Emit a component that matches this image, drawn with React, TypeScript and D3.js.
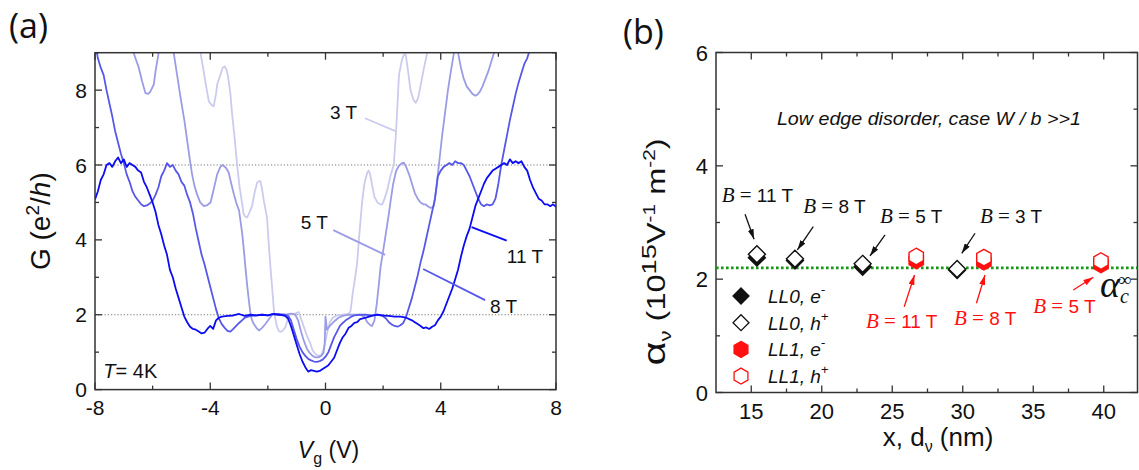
import React from 'react';
import * as d3 from 'd3';

// ---------- Panel (a) data: G (e^2/h) vs Vg (V) ----------
const vgTicks = [-8, -4, 0, 4, 8];
const gTicks = [0, 2, 4, 6, 8];
const plateauLevels = [2, 6];

const curve3T: [number, number][] = [
  [-4.45, 9.3], [-4.34, 9.0], [-4.25, 8.6], [-4.17, 8.23], [-4.05, 7.7], [-3.95, 7.6], [-3.88, 7.57], [-3.8, 7.9], [-3.76, 8.15],
  [-3.65, 8.4], [-3.57, 8.6], [-3.5, 8.63], [-3.44, 8.55], [-3.39, 8.4], [-3.3, 7.9], [-3.24, 7.35], [-3.15, 6.7], [-3.07, 6.02],
  [-2.98, 5.4], [-2.89, 4.95], [-2.84, 4.69], [-2.78, 4.62], [-2.72, 4.6], [-2.63, 4.75], [-2.55, 4.9], [-2.45, 5.3], [-2.37, 5.53],
  [-2.3, 5.57], [-2.26, 5.57], [-2.2, 5.35], [-2.14, 5.04], [-2.08, 4.8], [-2.03, 4.6], [-1.97, 3.9], [-1.91, 3.27], [-1.85, 2.7],
  [-1.79, 2.12], [-1.73, 1.85], [-1.68, 1.67], [-1.62, 1.57], [-1.56, 1.54], [-1.48, 1.58], [-1.39, 1.67], [-1.32, 1.85], [-1.27, 2.0],
  [-1.1, 2.02], [-0.93, 2.07], [-0.85, 1.9], [-0.75, 1.67], [-0.65, 1.45], [-0.52, 1.22], [-0.45, 1.05], [-0.35, 0.95], [-0.25, 0.9],
  [-0.15, 0.92], [-0.08, 1.05], [0.0, 1.3], [0.08, 1.6], [0.15, 1.8], [0.25, 1.92], [0.4, 1.98], [0.6, 2.0], [0.8, 2.02], [0.87, 2.1],
  [0.95, 2.6], [1.03, 3.0], [1.1, 3.4], [1.18, 4.2], [1.27, 5.0], [1.35, 5.5], [1.45, 5.8], [1.5, 5.85], [1.55, 5.75], [1.62, 5.45],
  [1.7, 5.15], [1.8, 5.0], [1.9, 4.95], [1.97, 4.95], [2.05, 5.1], [2.15, 5.35], [2.25, 5.7], [2.37, 6.0], [2.45, 6.9], [2.55, 8.4],
  [2.65, 8.8], [2.72, 8.95], [2.78, 8.96], [2.85, 8.6], [2.95, 8.0], [3.05, 7.75], [3.13, 7.66], [3.22, 7.8], [3.32, 8.2], [3.42, 8.6],
  [3.53, 9.0], [3.62, 9.3],
];

const curve5T: [number, number][] = [
  [-6.75, 9.3], [-6.66, 9.0], [-6.55, 8.75], [-6.48, 8.6], [-6.37, 8.25], [-6.25, 7.92], [-6.15, 7.9], [-6.08, 7.96], [-5.96, 8.15],
  [-5.9, 8.5], [-5.79, 9.0], [-5.7, 9.3], [-5.4, 9.3], [-5.27, 9.0], [-5.15, 8.4], [-5.03, 7.8], [-4.9, 7.2], [-4.8, 6.65], [-4.7, 6.1],
  [-4.63, 5.75], [-4.55, 5.45], [-4.46, 5.22], [-4.35, 5.0], [-4.22, 4.9], [-4.1, 4.93], [-3.99, 5.0], [-3.88, 5.35], [-3.76, 5.75],
  [-3.65, 5.95], [-3.57, 6.0], [-3.45, 5.92], [-3.36, 5.8], [-3.27, 5.5], [-3.18, 5.22], [-3.1, 5.0], [-3.0, 4.78], [-2.95, 4.5],
  [-2.89, 4.16], [-2.83, 3.7], [-2.78, 3.27], [-2.72, 2.8], [-2.66, 2.38], [-2.6, 2.0], [-2.55, 1.85], [-2.49, 1.76], [-2.4, 1.65],
  [-2.31, 1.58], [-2.2, 1.65], [-2.08, 1.76], [-1.95, 1.9], [-1.85, 2.0], [-1.6, 2.02], [-1.4, 2.0], [-1.2, 2.03], [-1.05, 2.0],
  [-0.95, 1.85], [-0.85, 1.55], [-0.75, 1.3], [-0.65, 1.1], [-0.55, 0.98], [-0.45, 0.9], [-0.35, 0.86], [-0.25, 0.86], [-0.15, 0.9],
  [-0.07, 0.98], [-0.03, 1.2], [0.0, 1.95], [0.05, 1.6], [0.15, 1.7], [0.3, 1.82], [0.45, 1.92], [0.6, 1.97], [0.8, 2.0], [1.0, 2.0],
  [1.2, 2.0], [1.35, 1.95], [1.45, 1.8], [1.55, 1.72], [1.62, 1.7], [1.7, 1.85], [1.78, 2.3], [1.85, 2.8], [1.91, 3.27], [2.0, 3.7],
  [2.1, 4.2], [2.2, 4.7], [2.26, 5.04], [2.35, 5.5], [2.45, 5.84], [2.55, 5.98], [2.65, 6.05], [2.72, 6.06], [2.8, 5.95], [2.9, 5.75],
  [3.0, 5.5], [3.1, 5.25], [3.2, 5.1], [3.3, 5.0], [3.4, 4.95], [3.47, 4.95], [3.55, 4.9], [3.65, 4.85], [3.76, 4.9], [3.85, 5.4],
  [3.95, 6.1], [4.05, 6.8], [4.15, 7.4], [4.25, 8.0], [4.35, 8.5], [4.46, 9.0], [4.52, 9.3], [4.55, 9.3], [4.6, 9.0], [4.7, 8.6],
  [4.8, 8.3], [4.9, 8.1], [5.0, 8.0], [5.1, 7.9], [5.2, 7.85], [5.27, 7.88], [5.35, 7.95], [5.45, 8.1], [5.55, 8.3], [5.65, 8.5],
  [5.75, 8.75], [5.85, 9.0], [5.95, 9.3],
];

const curve8T: [number, number][] = [
  [-8.0, 9.3], [-7.9, 8.85], [-7.8, 8.6], [-7.7, 8.4], [-7.6, 8.0], [-7.5, 7.65], [-7.4, 7.3], [-7.3, 6.9], [-7.2, 6.6], [-7.1, 6.3],
  [-7.0, 6.05], [-6.9, 5.75], [-6.8, 5.55], [-6.7, 5.3], [-6.6, 5.15], [-6.5, 5.05], [-6.4, 4.95], [-6.3, 4.9], [-6.2, 4.92],
  [-6.1, 4.97], [-6.0, 5.05], [-5.9, 5.2], [-5.8, 5.4], [-5.7, 5.7], [-5.6, 5.85], [-5.5, 6.05], [-5.4, 5.95], [-5.3, 6.0],
  [-5.2, 5.85], [-5.1, 5.75], [-5.0, 5.55], [-4.9, 5.45], [-4.8, 5.2], [-4.7, 5.0], [-4.6, 4.7], [-4.5, 4.3], [-4.4, 3.95],
  [-4.3, 3.6], [-4.2, 3.35], [-4.1, 3.05], [-4.0, 2.75], [-3.9, 2.45], [-3.8, 2.15], [-3.7, 1.9], [-3.6, 1.75], [-3.5, 1.65],
  [-3.4, 1.57], [-3.3, 1.55], [-3.2, 1.62], [-3.1, 1.7], [-3.0, 1.78], [-2.9, 1.85], [-2.8, 1.92], [-2.6, 1.97], [-2.4, 1.98],
  [-2.2, 2.0], [-2.0, 1.98], [-1.8, 2.02], [-1.6, 2.0], [-1.4, 2.0], [-1.3, 1.97], [-1.2, 1.85], [-1.1, 1.6], [-1.0, 1.35],
  [-0.9, 1.15], [-0.8, 1.0], [-0.7, 0.9], [-0.6, 0.82], [-0.5, 0.78], [-0.4, 0.75], [-0.3, 0.74], [-0.2, 0.76], [-0.1, 0.8],
  [0.0, 0.88], [0.1, 1.0], [0.2, 1.2], [0.3, 1.4], [0.4, 1.55], [0.5, 1.7], [0.6, 1.78], [0.7, 1.85], [0.8, 1.9], [0.9, 1.95],
  [1.0, 1.98], [1.2, 2.0], [1.4, 2.0], [1.6, 1.98], [1.8, 2.0], [2.0, 1.96], [2.1, 1.9], [2.2, 1.8], [2.3, 1.74], [2.4, 1.7],
  [2.5, 1.68], [2.6, 1.72], [2.7, 1.78], [2.8, 1.95], [2.9, 2.2], [3.0, 2.45], [3.1, 2.75], [3.2, 3.05], [3.3, 3.4], [3.4, 3.7],
  [3.5, 4.05], [3.6, 4.4], [3.7, 4.75], [3.8, 5.1], [3.85, 5.4], [3.9, 5.7], [4.0, 5.85], [4.1, 5.95], [4.2, 6.0], [4.3, 6.05],
  [4.4, 6.0], [4.5, 6.1], [4.6, 6.05], [4.7, 6.05], [4.8, 6.0], [4.9, 5.85], [5.0, 5.7], [5.1, 5.5], [5.2, 5.3], [5.3, 5.1],
  [5.4, 4.95], [5.5, 4.9], [5.6, 4.95], [5.7, 4.92], [5.8, 4.95], [5.9, 5.1], [6.0, 5.5], [6.1, 6.0], [6.2, 6.4], [6.3, 6.8],
  [6.4, 7.2], [6.5, 7.55], [6.6, 7.9], [6.7, 8.2], [6.8, 8.45], [6.9, 8.7], [7.0, 8.85], [7.1, 9.1], [7.2, 9.3],
];

const curve11T: [number, number][] = [
  [-8.0, 5.08], [-7.9, 5.3], [-7.8, 5.6], [-7.7, 5.75], [-7.6, 6.0], [-7.5, 6.05], [-7.4, 5.95], [-7.3, 6.1], [-7.2, 6.2], [-7.1, 6.05],
  [-7.0, 6.15], [-6.9, 5.95], [-6.8, 6.05], [-6.7, 6.0], [-6.6, 5.95], [-6.5, 5.85], [-6.4, 5.8], [-6.3, 5.55], [-6.2, 5.4],
  [-6.1, 5.2], [-6.0, 5.0], [-5.9, 4.75], [-5.8, 4.4], [-5.7, 4.15], [-5.6, 3.85], [-5.5, 3.6], [-5.4, 3.2], [-5.3, 3.0], [-5.2, 2.7],
  [-5.1, 2.45], [-5.0, 2.2], [-4.9, 1.95], [-4.8, 1.8], [-4.7, 1.68], [-4.6, 1.62], [-4.5, 1.6], [-4.4, 1.55], [-4.3, 1.5],
  [-4.2, 1.52], [-4.1, 1.62], [-4.0, 1.7], [-3.9, 1.62], [-3.8, 1.85], [-3.7, 1.92], [-3.6, 1.95], [-3.4, 1.97], [-3.2, 1.98],
  [-3.0, 2.02], [-2.8, 1.97], [-2.6, 2.0], [-2.4, 1.98], [-2.2, 2.0], [-2.0, 1.98], [-1.8, 2.02], [-1.6, 2.0], [-1.4, 1.97],
  [-1.3, 1.9], [-1.2, 1.7], [-1.1, 1.45], [-1.0, 1.2], [-0.9, 0.95], [-0.8, 0.75], [-0.7, 0.6], [-0.6, 0.48], [-0.5, 0.52],
  [-0.4, 0.5], [-0.3, 0.48], [-0.2, 0.5], [-0.1, 0.55], [0.0, 0.6], [0.1, 0.65], [0.2, 0.75], [0.3, 0.85], [0.4, 1.05], [0.5, 1.25],
  [0.6, 1.4], [0.7, 1.5], [0.8, 1.65], [0.9, 1.7], [1.0, 1.78], [1.1, 1.8], [1.2, 1.88], [1.4, 1.92], [1.6, 1.97], [1.8, 2.0],
  [2.0, 1.98], [2.2, 1.97], [2.4, 1.95], [2.6, 1.95], [2.8, 1.92], [3.0, 1.85], [3.1, 1.8], [3.2, 1.75], [3.3, 1.7], [3.4, 1.64],
  [3.5, 1.66], [3.6, 1.62], [3.7, 1.68], [3.8, 1.72], [3.9, 1.85], [4.0, 1.95], [4.1, 2.1], [4.2, 2.3], [4.3, 2.5], [4.4, 2.7],
  [4.5, 2.95], [4.6, 3.2], [4.7, 3.55], [4.8, 3.85], [4.9, 4.1], [5.0, 4.3], [5.1, 4.6], [5.2, 4.9], [5.3, 5.1], [5.4, 5.3],
  [5.5, 5.5], [5.6, 5.65], [5.7, 5.75], [5.8, 5.85], [5.9, 5.9], [6.0, 5.95], [6.1, 6.0], [6.2, 6.05], [6.3, 6.0], [6.4, 6.15],
  [6.5, 6.05], [6.6, 6.1], [6.7, 6.05], [6.8, 6.1], [6.9, 5.95], [7.0, 5.85], [7.1, 5.6], [7.2, 5.4], [7.3, 5.25], [7.4, 5.1],
  [7.5, 5.05], [7.6, 4.95], [7.7, 4.95], [7.8, 4.9], [7.9, 4.95], [8.0, 4.88],
];

const fieldNames = ['3 T', '5 T', '8 T', '11 T'];
const fieldCurves = [curve3T, curve5T, curve8T, curve11T];
const fieldColors = ['#cbcbee', '#9c9ce6', '#5858e8', '#0c0cf2'];
// label text anchor [Vg, G] and leader line [Vg1, G1, Vg2, G2]
const fieldLabelPos: [number, number][] = [[0.16, 7.22], [-0.86, 4.28], [5.71, 2.05], [6.29, 3.39]];
const fieldLeaders: [number, number, number, number][] = [
  [1.37, 7.25, 2.47, 6.89], [0.27, 4.26, 2.07, 3.6], [3.39, 3.22, 5.54, 2.39], [5.07, 4.34, 6.29, 3.98],
];

// ---------- Panel (b) data: alpha_nu vs x, d_nu ----------
const dTicks = [15, 20, 25, 30, 35, 40];
const dMinor = [17.5, 22.5, 27.5, 32.5, 37.5];
const aTicks = [0, 2, 4, 6];
const aMinor = [1, 3, 5];
const ll0X = [15.4, 18.1, 22.9, 29.6];
const ll0eY = [2.38, 2.33, 2.22, 2.16];
const ll0hY = [2.44, 2.36, 2.27, 2.18];
const ll1X = [26.7, 31.5, 39.8];
const ll1eY = [2.33, 2.31, 2.26];
const ll1hY = [2.4, 2.38, 2.32];
const alphaInf = 2.2;
const blackB = ['11', '8', '5', '3'];
const blackBText: [number, number][] = [[12.9, 3.367], [18.69, 3.162], [24.13, 2.986], [31.22, 2.986]];
const blackBArrow: [number, number, number, number][] = [
  [14.56, 3.147, 15.2, 2.706], [19.4, 2.926, 18.27, 2.515], [24.49, 2.78, 23.42, 2.409], [30.87, 2.81, 29.93, 2.456],
];
const redB = ['11', '8', '5'];
const redBText: [number, number][] = [[23.14, 1.133], [29.38, 1.19], [35.0, 1.40]];
const redBArrow: [number, number, number, number][] = [
  [25.85, 1.514, 26.58, 2.074], [30.97, 1.574, 31.58, 2.074], [37.84, 1.809, 39.26, 2.033],
];
const legendLabels = [['LL0, e', '-'], ['LL0, h', '+'], ['LL1, e', '-'], ['LL1, h', '+']];

const SANS = '"Liberation Sans", Arial, sans-serif';
const SERIF = '"Liberation Serif", "Times New Roman", serif';
const AX = '#333';

const diamond = (r: number) => `M0,${-r}L${r},0L0,${r}L${-r},0Z`;
const hexagon = (r: number) => {
  const pts = d3.range(6).map((i) => {
    const a = (Math.PI / 180) * (-90 + 60 * i);
    return [r * Math.cos(a), r * Math.sin(a)];
  });
  return 'M' + pts.map((p) => p.join(',')).join('L') + 'Z';
};

function PanelA() {
  const x = d3.scaleLinear().domain([-8, 8]).range([95, 556]);
  const y = d3.scaleLinear().domain([0, 9]).range([389.6, 52.7]);
  const line = d3.line<[number, number]>().x((d) => x(d[0])).y((d) => y(d[1]));
  const [x0, x1] = x.range();
  const [y0, y1] = y.range();
  const xt = d3.range(-8, 8.01, 2);
  const yt = d3.range(0, 9.01, 1);
  return (
    <g>
      <defs>
        <clipPath id="clipA">
          <rect x={x0} y={y1} width={x1 - x0} height={y0 - y1} />
        </clipPath>
      </defs>
      {plateauLevels.map((v) => (
        <line key={v} x1={x0} x2={x1} y1={y(v)} y2={y(v)} stroke="#777" strokeWidth={1} strokeDasharray="1.2,2" />
      ))}
      <g clipPath="url(#clipA)">
        {fieldCurves.map((c, i) => (
          <path key={i} d={line(c) || ''} fill="none" stroke={fieldColors[i]} strokeWidth={1.8} strokeLinejoin="round" />
        ))}
      </g>
      {fieldNames.map((n, i) => (
        <g key={n}>
          <line x1={x(fieldLeaders[i][0])} y1={y(fieldLeaders[i][1])} x2={x(fieldLeaders[i][2])} y2={y(fieldLeaders[i][3])}
            stroke={fieldColors[i]} strokeWidth={1.8} />
          <text x={x(fieldLabelPos[i][0])} y={y(fieldLabelPos[i][1])} fontFamily={SANS} fontSize={19} fill="#111">{n}</text>
        </g>
      ))}
      <text x={x(-7.71)} y={y(0.3)} fontFamily={SANS} fontSize={20} fill="#111">
        <tspan fontStyle="italic">T</tspan>= 4K
      </text>
      <rect x={x0} y={y1} width={x1 - x0} height={y0 - y1} fill="none" stroke={AX} strokeWidth={1.5} />
      {xt.map((v) => {
        const L = v % 4 === 0 ? 7 : 4;
        return (
          <g key={v}>
            <line x1={x(v)} x2={x(v)} y1={y0} y2={y0 - L} stroke={AX} strokeWidth={1.3} />
            <line x1={x(v)} x2={x(v)} y1={y1} y2={y1 + L} stroke={AX} strokeWidth={1.3} />
          </g>
        );
      })}
      {yt.map((v) => {
        const L = v % 2 === 0 ? 7 : 4;
        return (
          <g key={v}>
            <line x1={x0} x2={x0 + L} y1={y(v)} y2={y(v)} stroke={AX} strokeWidth={1.3} />
            <line x1={x1} x2={x1 - L} y1={y(v)} y2={y(v)} stroke={AX} strokeWidth={1.3} />
          </g>
        );
      })}
      {vgTicks.map((v) => (
        <text key={v} x={x(v)} y={y0 + 25} textAnchor="middle" fontFamily={SANS} fontSize={21} fill="#111">{String(v)}</text>
      ))}
      {gTicks.map((v) => (
        <text key={v} x={x0 - 8} y={y(v) + 7.5} textAnchor="end" fontFamily={SANS} fontSize={21} fill="#111">{String(v)}</text>
      ))}
      <text x={(x0 + x1) / 2 + 3} y={458} textAnchor="middle" fontFamily={SANS} fontSize={23} fill="#111">
        <tspan fontStyle="italic">V</tspan>
        <tspan fontSize={16} dy={6}>g</tspan>
        <tspan dy={-6}> (V)</tspan>
      </text>
      <g transform={`translate(50, ${(y0 + y1) / 2}) rotate(-90)`}>
        <text textAnchor="middle" fontFamily={SANS} fontSize={28} fill="#111">
          G (e<tspan fontSize={19} dy={-11}>2</tspan><tspan dy={11}>/</tspan><tspan fontStyle="italic">h</tspan>)
        </text>
      </g>
      <text x={9} y={38} fontFamily='"Open Sans", sans-serif' fontSize={34} fill="#111">(a)</text>
    </g>
  );
}

function PanelB() {
  const x = d3.scaleLinear().domain([12.5, 42.5]).range([716, 1139]);
  const y = d3.scaleLinear().domain([0, 6]).range([392.5, 52.5]);
  const x0 = 716;
  const x1 = 1137.5;
  const [y0, y1] = y.range();
  const R = '#ff1010';
  return (
    <g>
      <defs>
        <marker id="arrK" viewBox="0 0 10 6" refX={10} refY={3} markerWidth={10} markerHeight={6} markerUnits="userSpaceOnUse" orient="auto">
          <path d="M0,0L10,3L0,6Z" fill="#111" />
        </marker>
        <marker id="arrR" viewBox="0 0 10 6" refX={10} refY={3} markerWidth={10} markerHeight={6} markerUnits="userSpaceOnUse" orient="auto">
          <path d="M0,0L10,3L0,6Z" fill={R} />
        </marker>
      </defs>
      <rect x={x0} y={y1} width={x1 - x0} height={y0 - y1} fill="none" stroke={AX} strokeWidth={1.5} />
      {dTicks.map((v) => (
        <g key={v}>
          <line x1={x(v)} x2={x(v)} y1={y0} y2={y0 - 7} stroke={AX} strokeWidth={1.3} />
          <line x1={x(v)} x2={x(v)} y1={y1} y2={y1 + 7} stroke={AX} strokeWidth={1.3} />
          <text x={x(v)} y={y0 + 26} textAnchor="middle" fontFamily={SANS} fontSize={22} fill="#111">{String(v)}</text>
        </g>
      ))}
      {dMinor.map((v) => (
        <g key={v}>
          <line x1={x(v)} x2={x(v)} y1={y0} y2={y0 - 4} stroke={AX} strokeWidth={1.3} />
          <line x1={x(v)} x2={x(v)} y1={y1} y2={y1 + 4} stroke={AX} strokeWidth={1.3} />
        </g>
      ))}
      {aTicks.map((v) => (
        <g key={v}>
          <line x1={x0} x2={x0 + 7} y1={y(v)} y2={y(v)} stroke={AX} strokeWidth={1.3} />
          <line x1={x1} x2={x1 - 7} y1={y(v)} y2={y(v)} stroke={AX} strokeWidth={1.3} />
          <text x={x0 - 8} y={y(v) + 8} textAnchor="end" fontFamily={SANS} fontSize={22} fill="#111">{String(v)}</text>
        </g>
      ))}
      {aMinor.map((v) => (
        <g key={v}>
          <line x1={x0} x2={x0 + 4} y1={y(v)} y2={y(v)} stroke={AX} strokeWidth={1.3} />
          <line x1={x1} x2={x1 - 4} y1={y(v)} y2={y(v)} stroke={AX} strokeWidth={1.3} />
        </g>
      ))}
      <line x1={x0} x2={x1} y1={y(alphaInf)} y2={y(alphaInf)} stroke="#169816" strokeWidth={2.6} strokeDasharray="2.6,2.4" />
      <text x={x(27.6)} y={y(4.72)} textAnchor="middle" fontFamily={SANS} fontStyle="italic" fontSize={19} fill="#111"
        textLength={304} lengthAdjust="spacingAndGlyphs">Low edge disorder,  case W / b &gt;&gt;1</text>
      {ll0X.map((v, i) => (
        <path key={'f' + i} d={diamond(8.5)} transform={`translate(${x(v)},${y(ll0eY[i])})`} fill="#111" stroke="#111" strokeWidth={1.4} />
      ))}
      {ll0X.map((v, i) => (
        <path key={'o' + i} d={diamond(8.5)} transform={`translate(${x(v)},${y(ll0hY[i])})`} fill="#fff" stroke="#111" strokeWidth={1.4} />
      ))}
      {ll1X.map((v, i) => (
        <path key={'hf' + i} d={hexagon(8.3)} transform={`translate(${x(v)},${y(ll1eY[i])})`} fill={R} stroke={R} strokeWidth={1.4} />
      ))}
      {ll1X.map((v, i) => (
        <path key={'ho' + i} d={hexagon(8.3)} transform={`translate(${x(v)},${y(ll1hY[i])})`} fill="#fff" stroke={R} strokeWidth={1.4} />
      ))}
      {blackB.map((b, i) => (
        <g key={'kb' + i}>
          <line x1={x(blackBArrow[i][0])} y1={y(blackBArrow[i][1])} x2={x(blackBArrow[i][2])} y2={y(blackBArrow[i][3])}
            stroke="#111" strokeWidth={1.3} markerEnd="url(#arrK)" />
          <text x={x(blackBText[i][0])} y={y(blackBText[i][1])} fontSize={19} fill="#111" fontFamily={SANS}>
            <tspan fontFamily={SERIF} fontStyle="italic" fontSize={21}>B</tspan>
            <tspan fontFamily={SERIF} fontSize={21}> = </tspan>
            <tspan>{b} T</tspan>
          </text>
        </g>
      ))}
      {redB.map((b, i) => (
        <g key={'rb' + i}>
          <line x1={x(redBArrow[i][0])} y1={y(redBArrow[i][1])} x2={x(redBArrow[i][2])} y2={y(redBArrow[i][3])}
            stroke={R} strokeWidth={1.3} markerEnd="url(#arrR)" />
          <text x={x(redBText[i][0])} y={y(redBText[i][1])} fontSize={19} fill={R} fontFamily={SANS}>
            <tspan fontFamily={SERIF} fontStyle="italic" fontSize={21}>B</tspan>
            <tspan fontFamily={SERIF} fontSize={21}> = </tspan>
            <tspan>{b} T</tspan>
          </text>
        </g>
      ))}
      <text x={x(39.73)} y={y(1.685)} fontFamily={SERIF} fontStyle="italic" fontSize={38} fill="#111">
        α<tspan fontSize={20} dy={6}>c</tspan><tspan fontSize={19} fontStyle="normal" dx={-11} dy={-17}>∞</tspan>
      </text>
      {legendLabels.map((l, i) => {
        const cy = 296 + i * 26.7;
        const sym = i < 2 ? diamond(8) : hexagon(8);
        const col = i < 2 ? '#111' : R;
        const filled = i % 2 === 0;
        return (
          <g key={'lg' + i}>
            <path d={sym} transform={`translate(741,${cy})`} fill={filled ? col : '#fff'} stroke={col} strokeWidth={1.3} />
            <text x={768} y={cy + 7} fontFamily={SANS} fontStyle="italic" fontSize={19} fill="#111">
              {l[0]}<tspan fontSize={13} dy={-9}>{l[1]}</tspan>
            </text>
          </g>
        );
      })}
      <text x={938} y={446} textAnchor="middle" fontFamily={SANS} fontSize={26} fill="#111">
        x, d<tspan fontSize={16} dy={6}>ν</tspan><tspan dy={-6}> (nm)</tspan>
      </text>
      <g transform={`translate(665, 252) rotate(-90)`}>
        <text textAnchor="middle" fontFamily={SANS} fontSize={25} fill="#111" transform="scale(1.3,1)">
          <tspan fontSize={32}>α</tspan>
          <tspan fontSize={17} dy={6}>ν</tspan>
          <tspan dy={-6}> (10</tspan>
          <tspan fontSize={21} dy={-9}>15</tspan>
          <tspan dy={9}>V</tspan>
          <tspan fontSize={16} dy={-10}>-1</tspan>
          <tspan dy={10}> m</tspan>
          <tspan fontSize={16} dy={-10}>-2</tspan>
          <tspan dy={10}>)</tspan>
        </text>
      </g>
      <text x={623} y={44} fontFamily='"Open Sans", sans-serif' fontSize={34} fill="#111">(b)</text>
    </g>
  );
}

export default function App() {
  return (
    <svg width={1139} height={470} viewBox="0 0 1139 470"
      style={{ position: 'absolute', left: 0, top: 0, background: '#fff' }}>
      <rect width={1139} height={470} fill="#fff" />
      <PanelA />
      <PanelB />
    </svg>
  );
}
